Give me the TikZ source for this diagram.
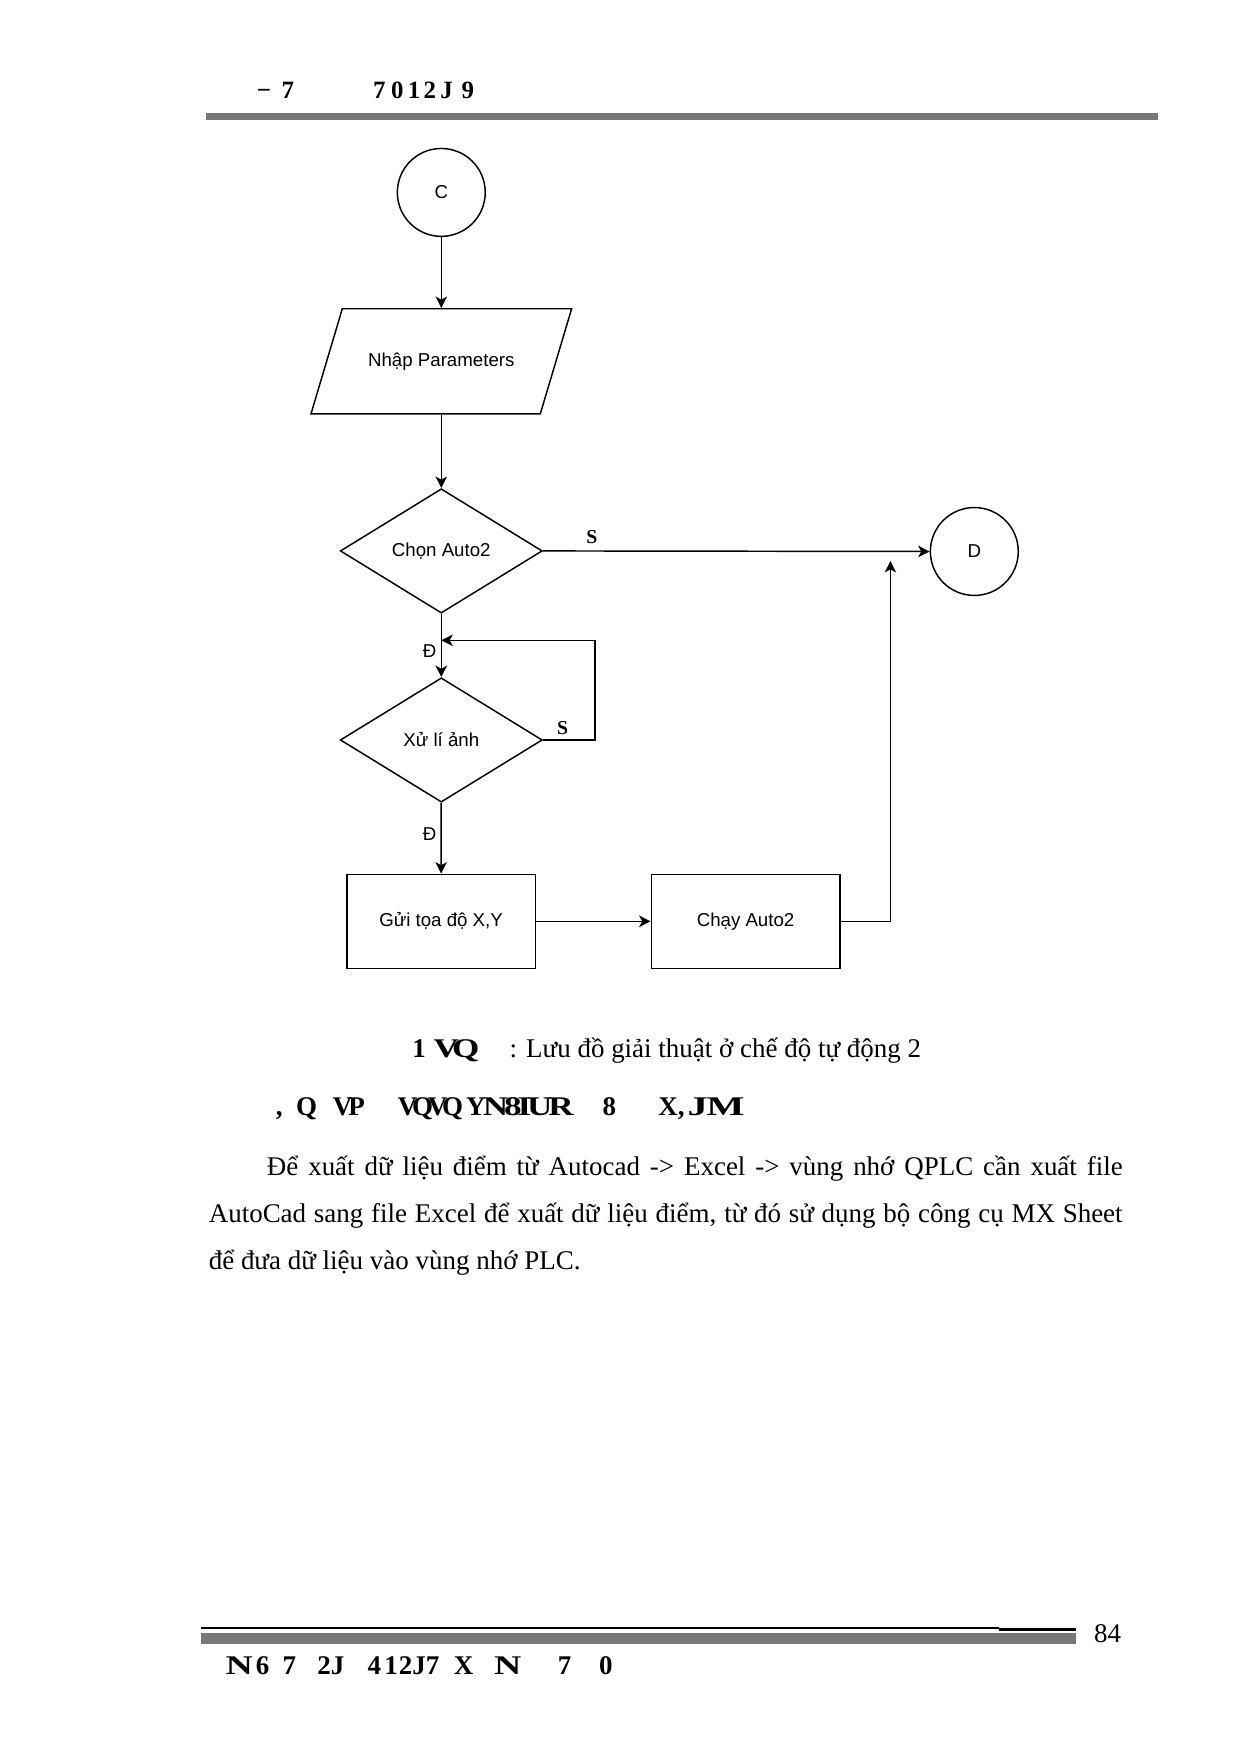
\documentclass[tikz,border=0pt]{standalone}
\usepackage{fontspec}
\usepackage{graphicx}
\setmainfont{Liberation Serif}
\newfontfamily\diafont{Liberation Sans}
\usetikzlibrary{shapes.geometric,arrows.meta}
\definecolor{bargray}{RGB}{120,120,120}
\begin{document}
\begin{tikzpicture}[x=0.537bp,y=-0.537bp,
  line width=0.7bp,
  flow/.style={draw, line width=0.7bp, -{Stealth[length=5.5bp,width=5.5bp,inset=1.5bp]}},
  conn/.style={draw, circle, line width=0.7bp, minimum size=42.2bp, inner sep=0pt, font=\diafont\fontsize{9}{11}\selectfont},
  decis/.style={draw, diamond, line width=0.7bp, minimum width=97bp, minimum height=59.7bp, inner sep=0pt, font=\diafont\fontsize{9}{11}\selectfont},
  procbox/.style={draw, rectangle, line width=0.7bp, minimum width=90.5bp, minimum height=45.1bp, inner sep=0pt, font=\diafont\fontsize{9}{11}\selectfont},
  iotext/.style={rectangle, minimum width=110bp, minimum height=50.5bp, inner sep=0pt, font=\diafont\fontsize{9}{11}\selectfont},
  yn/.style={font=\rmfamily\bfseries\fontsize{9.5}{11}\selectfont, inner sep=0pt},
  yd/.style={font=\diafont\fontsize{9}{11}\selectfont, inner sep=0pt},
  bodytxt/.style={anchor=base west, inner sep=0pt, font=\fontsize{13}{15}\selectfont},
  boldtxt/.style={anchor=base west, inner sep=0pt, font=\bfseries\fontsize{13}{15}\selectfont},
  hdtxt/.style={anchor=base west, inner sep=0pt, font=\bfseries\fontsize{12}{14}\selectfont}
]
\useasboundingbox (0,0) rectangle (1109,1568);
\fill[white] (0,0) rectangle (1109,1568);

% header
\node[hdtxt] (h1) at (229,88) {−};
\node[hdtxt] (h2) at (251,88) {7};
\node[hdtxt] (h3) at (333,88) {7};
\node[hdtxt] (h4) at (349,88) {0};
\node[hdtxt] (h5) at (364,88) {1};
\node[hdtxt] (h6) at (378,88) {2};
\node[hdtxt] (h7) at (393,88) {J};
\node[hdtxt] (h8) at (412,88) {9};
\fill[bargray] (184,101) rectangle (1035,107);

% flowchart
\node[conn] (c) at (394.5,172) {C};
\draw[line width=0.7bp] (306,276) -- (511,276) -- (483,370) -- (278,370) -- cycle;
\node[iotext] (p) at (394.5,323) {Nhập Parameters};
\node[decis] (d1) at (394.5,492.5) {Chọn Auto2};
\node[conn] (dd) at (871,493) {D};
\node[decis] (d2) at (394.5,661.5) {Xử lí ảnh};
\node[procbox] (b1) at (394.3,823.6) {Gửi tọa độ X,Y};
\node[procbox] (b2) at (666.5,823.6) {Chạy Auto2};
\coordinate (loopa) at (532,661.5);
\coordinate (loopb) at (532,572.4);
\coordinate (loopc) at (394.5,572.4);
\coordinate (upend) at (796,501.5);

\path[flow] (c) -- (p);
\path[flow] (p) -- (d1);
\path[flow] (d1.east) -- (dd.west);
\path[flow] (d1) -- (d2);
\path[flow] (d2.east) -- (loopa) -- (loopb) -- (loopc);
\path[flow] (d2) -- (b1);
\path[flow] (b1) -- (b2);
\path[flow] (b2.east) -| (upend);

\node[yn] (s1) at (529,480) {S};
\node[yn] (s2) at (503,651) {S};
\node[yd] (t1) at (384,582) {Đ};
\node[yd] (t2) at (384,746) {Đ};

% caption
\node[boldtxt] (cap1) at (368,945) {1};
\node[boldtxt] (cap2) at (387,945) {\scalebox{1.3}[1]{V\kern-2.5bp Q}};
\node[bodytxt] (cap3) at (455,945) {: Lưu đồ giải thuật ở chế độ tự động 2};

% heading
\node[boldtxt] (k1) at (246,997) {,};
\node[boldtxt] (k2) at (264,997) {Q};
\node[boldtxt] (k3) at (297,997) {V\kern-2bp P};
\node[boldtxt] (k4) at (355,997) {V\kern-2.5bp Q\kern-2.5bp V\kern-2.5bp Q};
\node[boldtxt] (k5) at (416,997) {Y};
\node[boldtxt] (k6) at (431,997) {\scalebox{1.3}[1]{N\kern-1.5bp 8\kern-1.5bp I\kern-1.5bp U\kern-1.5bp R}};
\node[boldtxt] (k7) at (538,997) {8};
\node[boldtxt] (k8) at (588,997) {X,};
\node[boldtxt] (k9) at (614,997) {\scalebox{1.5}[1]{J\kern-0.5bp M}};

% paragraph
\node[bodytxt] (l1) at (238,1051) {\makebox[410.8bp][s]{Để xuất dữ liệu điểm từ Autocad -> Excel -> vùng nhớ QPLC cần xuất file}};
\node[bodytxt] (l2) at (186,1093) {\makebox[438.7bp][s]{AutoCad sang file Excel để xuất dữ liệu điểm, từ đó sử dụng bộ công cụ MX Sheet}};
\node[bodytxt] (l3) at (186,1135) {để đưa dữ liệu vào vùng nhớ PLC.};

% footer
\fill[black] (180,1454.2) rectangle (893,1456);
\fill[black] (893,1455.3) rectangle (962,1458);
\fill[bargray] (180,1459.4) rectangle (962,1469.7);
\node[bodytxt] (pg) at (977.5,1468) {84};
\node[boldtxt] (f1) at (201,1497) {\scalebox{1.4}[1]{N}};
\node[boldtxt] (f2) at (228,1497) {6};
\node[boldtxt] (f3) at (252,1497) {7};
\node[boldtxt] (f4) at (283,1497) {2J};
\node[boldtxt] (f5) at (328,1497) {4};
\node[boldtxt] (f6) at (343,1497) {1};
\node[boldtxt] (f7) at (356,1497) {2J7};
\node[boldtxt] (f8) at (405,1497) {X};
\node[boldtxt] (f9) at (441,1497) {\scalebox{1.4}[1]{N}};
\node[boldtxt] (f10) at (498,1497) {7};
\node[boldtxt] (f11) at (535,1497) {0};
\end{tikzpicture}
\end{document}
